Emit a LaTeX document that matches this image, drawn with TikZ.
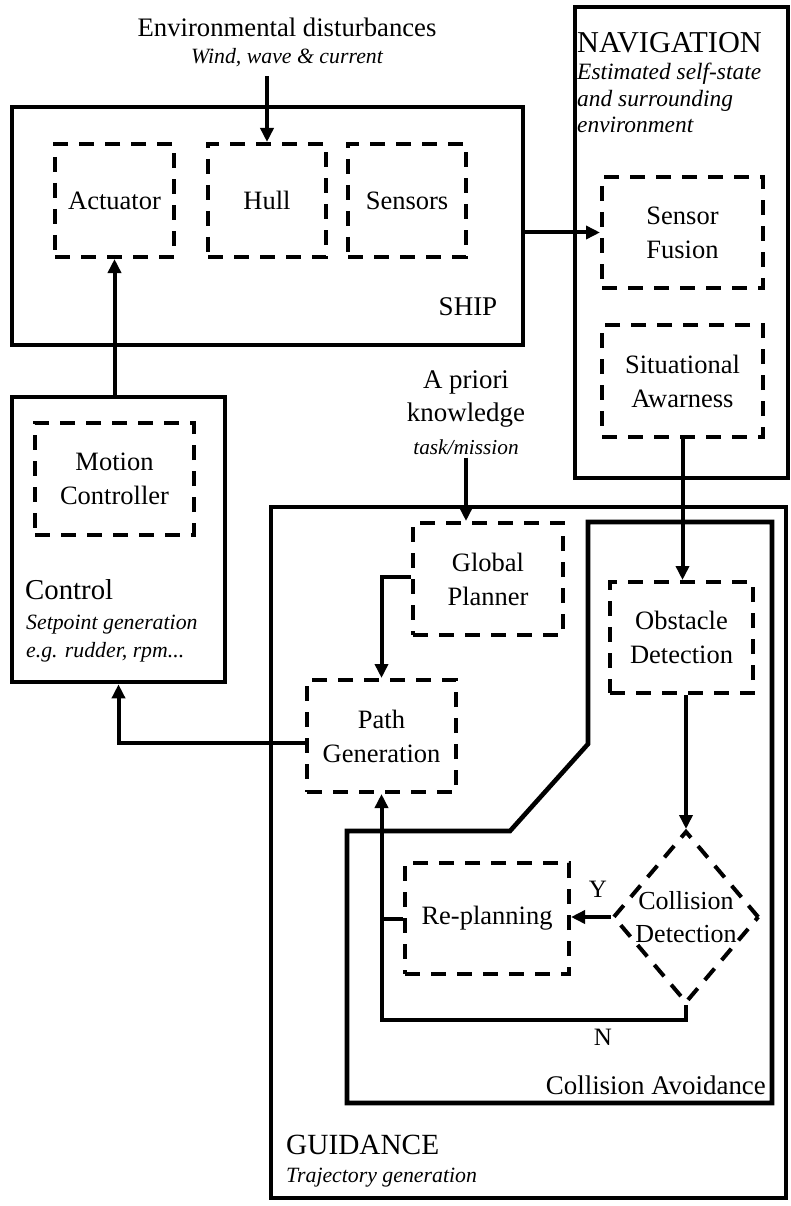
\documentclass[tikz,border=0pt]{standalone}
\usepackage{fontspec}
\setmainfont{Liberation Serif}
\usetikzlibrary{arrows.meta,shapes.geometric,calc}
\begin{document}
\begin{tikzpicture}[x=1pt,y=-1pt,
  outerbox/.style={draw, line width=4.6pt, inner sep=0pt},
  dbox/.style={draw, line width=4pt, dash pattern=on 15pt off 11pt, inner sep=0pt,
     font=\fontsize{26.5}{34}\selectfont, align=center},
  ddiam/.style={draw, diamond, line width=4pt, dash pattern=on 15pt off 11pt, inner sep=0pt},
  txt/.style={inner sep=0pt, font=\fontsize{26.5}{34}\selectfont, align=center},
  itx/.style={inner sep=0pt, font=\fontsize{21.8}{28}\selectfont\itshape, align=left},
  arr/.style={line width=4pt, -{Triangle[length=14pt,width=13pt]}},
  conn/.style={line width=4pt}
]
\useasboundingbox (0,0) rectangle (790,1206);

% ---- SHIP ----
\node[outerbox, minimum width=511pt, minimum height=238pt] (ship) at (267.5,226) {};
\node[dbox, minimum width=119pt, minimum height=113pt] (act) at (114.5,200.5) {Actuator};
\node[dbox, minimum width=118pt, minimum height=113pt] (hull) at (267,200.5) {Hull};
\node[dbox, minimum width=118pt, minimum height=113pt] (sens) at (407,200.5) {Sensors};
\node[txt, font=\fontsize{27}{32}\selectfont] (shiplbl) at (468,307) {SHIP};

\node[txt, font=\fontsize{26.7}{32}\selectfont] (env) at (287,27) {Environmental disturbances};
\node[itx] (wind) at (287,58) {Wind, wave \& current};

% ---- NAVIGATION ----
\node[outerbox, minimum width=213pt, minimum height=471pt] (nav) at (681.5,242.5) {};
\node[txt, anchor=west, font=\fontsize{30.3}{36}\selectfont] (navlbl) at (577,43) {NAVIGATION};
\node[itx, anchor=west, font=\fontsize{23.4}{26.5}\selectfont\itshape] (navdesc) at (577,98) {Estimated self-state\\and surrounding\\environment};
\node[dbox, minimum width=161pt, minimum height=111pt] (sf) at (682.5,232.5) {Sensor\\Fusion};
\node[dbox, minimum width=161pt, minimum height=112pt] (sa) at (682.5,381) {Situational\\Awarness};

% ---- CONTROL ----
\node[outerbox, minimum width=213pt, minimum height=285pt] (ctrl) at (118.5,539.5) {};
\node[dbox, minimum width=159pt, minimum height=112pt] (mc) at (114.5,479) {Motion\\Controller};
\node[txt, anchor=west, font=\fontsize{28.8}{34}\selectfont] (ctrllbl) at (25,590) {Control};
\node[itx, anchor=west] (ctrldesc) at (26,639) {Setpoint generation\\e.g. rudder, rpm...};

% ---- A priori ----
\node[txt, font=\fontsize{26.9}{33}\selectfont] (apr) at (466,398.5) {A priori\\knowledge};
\node[itx, font=\fontsize{21.3}{26}\selectfont\itshape] (task) at (466,447) {task/mission};

% ---- GUIDANCE ----
\node[outerbox, minimum width=515pt, minimum height=691pt] (guid) at (528.5,852.5) {};
\node[dbox, minimum width=150pt, minimum height=112pt] (gp) at (488,579) {Global\\Planner};
\node[dbox, minimum width=149pt, minimum height=112pt] (pg) at (381.5,736) {Path\\Generation};
\draw[line width=4.6pt, line join=miter] (347,831) -- (510,831) -- (588,744) -- (588,522) -- (772,522) -- (772,1103) -- (347,1103) -- cycle;
\node[dbox, minimum width=143pt, minimum height=111pt] (od) at (681.5,637.5) {Obstacle\\Detection};
\node[ddiam, minimum width=146pt, minimum height=172pt] (cd) at (686,917) {};
\node[txt, font=\fontsize{26}{33}\selectfont] (cdlbl) at (686,917) {Collision\\Detection};
\node[dbox, minimum width=164pt, minimum height=111pt] (rp) at (487,918.5) {Re-planning};
\node[txt, font=\fontsize{25}{30}\selectfont] (ylbl) at (598,889) {Y};
\node[txt, font=\fontsize{25}{30}\selectfont] (nlbl) at (603,1037) {N};
\node[txt, anchor=east, font=\fontsize{26.9}{32}\selectfont] (calbl) at (766,1085) {Collision Avoidance};
\node[txt, anchor=west, font=\fontsize{29.3}{34}\selectfont] (guidlbl) at (286,1145) {GUIDANCE};
\node[itx, anchor=west] (guiddesc) at (286,1178) {Trajectory generation};

% ---- connectors ----
\draw[arr] ([yshift=-9pt]wind.south -| hull.north) -- (hull.north);
\draw[arr] (ctrl.north -| act.south) -- (act.south);
\draw[arr] (ship.east |- sf.west) -- (sf.west);
\draw[arr] (sa.south) -- (sa.south |- od.north);
\draw[arr] ([yshift=-3pt]task.south) -- (task.south |- gp.north);
\draw[arr] ([yshift=2pt]gp.west) -| (pg.north);
\draw[arr] ([yshift=-7pt]pg.west) -| (ctrl.south);
\draw[arr] (od.south -| cd.north) -- (cd.north);
\draw[arr] (cd.west) -- (cd.west -| rp.east);
\draw[arr] (rp.west) -| (pg.south);
\draw[conn] (cd.south) -- ++(0,15) -| (rp.west -| pg.south);
\end{tikzpicture}
\end{document}
